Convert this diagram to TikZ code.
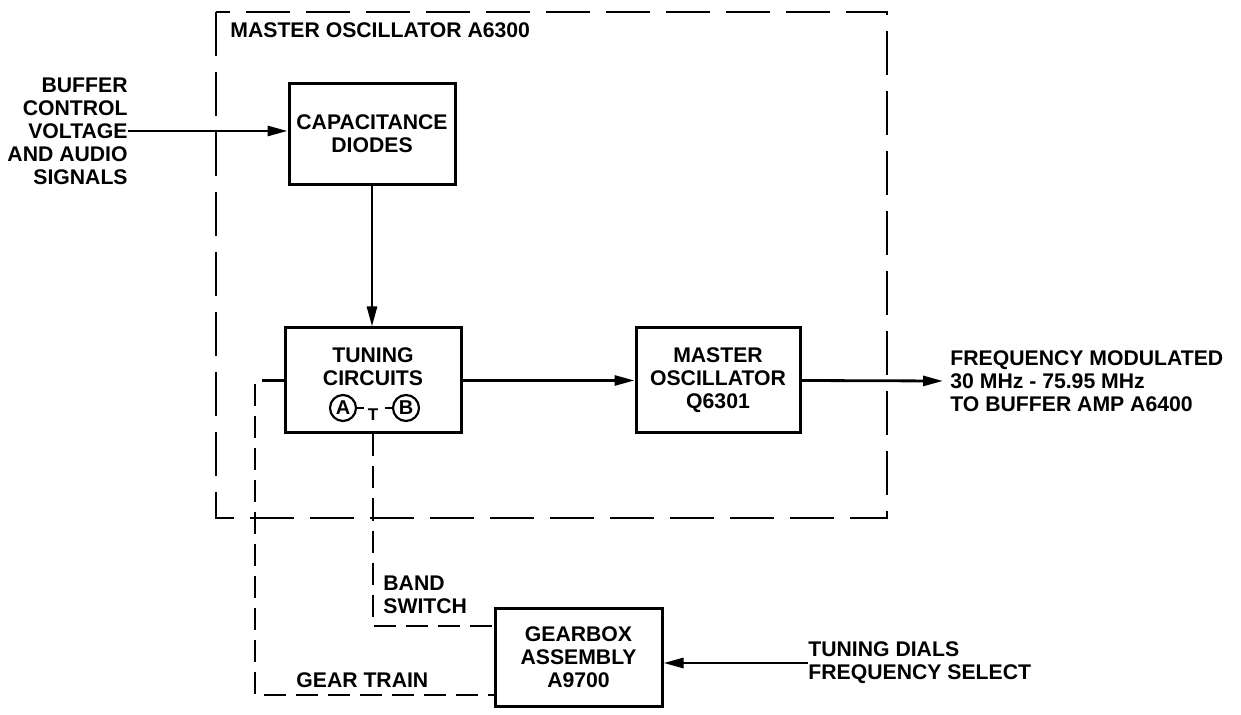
\documentclass[tikz,border=0pt]{standalone}
\usepackage{fontspec}
\setmainfont{Liberation Sans}
\usetikzlibrary{arrows.meta,calc}
\begin{document}
\begin{tikzpicture}[x=0.5pt,y=-0.5pt,
  every node/.style={font=\bfseries\fontsize{10.6}{11.5}\selectfont, inner sep=0pt},
  blk/.style={draw, line width=1.5pt, align=center},
  conn/.style={line width=1.4pt, -{Triangle[length=10pt,width=5pt]}},
  mech/.style={line width=1.3pt, dash pattern=on 11pt off 5pt},
  encl/.style={line width=1.3pt, dash pattern=on 22pt off 8pt},
  lbl/.style={align=left},
  rlbl/.style={align=right},
  circ/.style={draw, circle, line width=1.1pt, minimum size=13pt, inner sep=0pt}]
\useasboundingbox (0,0) rectangle (1241,715);

% enclosure
\draw[encl] (216,12) rectangle (887,518);
\node[anchor=west] (encltitle) at (230,30) {MASTER OSCILLATOR A6300};

% blocks
\node[blk, minimum width=83pt, minimum height=50.5pt] (capd) at (372,134) {CAPACITANCE\\DIODES};
\node[blk, minimum width=88pt, minimum height=52.5pt] (tun) at (373,380.5) {};
\node[align=center] (tuntxt) at (373,367) {TUNING\\CIRCUITS};
\node[circ] (A) at (343,408) {\fontsize{10}{10}\selectfont A};
\node[circ] (B) at (406,408) {\fontsize{10}{10}\selectfont B};
\node (T) at (373,415) {\fontsize{8.5}{9}\selectfont T};
\draw[line width=1.1pt] (A.east) -- ++(7,0) coordinate (a1);
\draw[line width=1.1pt] (B.west) -- ++(-7,0) coordinate (b1);

\node[blk, minimum width=82pt, minimum height=52.5pt] (mo) at (718,380.5) {MASTER\\OSCILLATOR\\Q6301};
\node[blk, minimum width=83.5pt, minimum height=49pt] (gear) at (578.5,657) {GEARBOX\\ASSEMBLY\\A9700};

% input
\node[rlbl, anchor=east] (in) at (128,131) {BUFFER\\CONTROL\\VOLTAGE\\AND AUDIO\\SIGNALS};
\draw[conn] (in.east) -- (in.east -| capd.west);
\draw[conn] (capd.south) -- (capd.south |- tun.north);
\draw[conn] (tun.east) -- (mo.west);

% output
\node[lbl, anchor=west] (out) at (950,381) {FREQUENCY MODULATED\\30 MHz - 75.95 MHz\\TO BUFFER AMP A6400};
\coordinate (outend) at (943,381);
\draw[conn] (mo.east) -- (outend);

% tuning dials
\node[lbl, anchor=west] (dials) at (808,663) {TUNING DIALS\\FREQUENCY SELECT};
\draw[conn] (dials.west) -- (dials.west -| gear.east);

% band switch
\coordinate (bsy) at (0,626);
\draw[mech] (T |- tun.south) |- (gear.west |- bsy);
\node[lbl, anchor=west] (bs) at (383,595) {BAND\\SWITCH};

% gear train
\coordinate (gtc) at (255,695);
\draw[mech] (tun.west) -| (gtc) -- (gtc -| gear.west);
\node[anchor=west] (gt) at (296,680) {GEAR TRAIN};
\end{tikzpicture}
\end{document}
